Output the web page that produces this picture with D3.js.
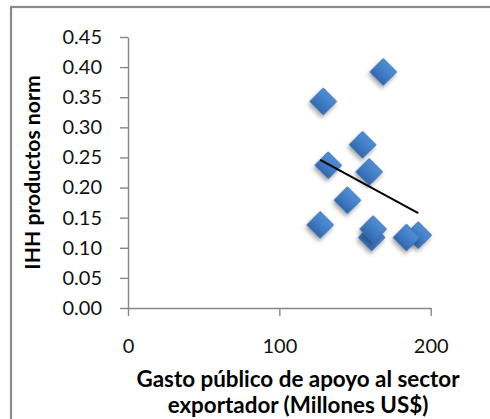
<!DOCTYPE html>
<html>
<head>
<meta charset="utf-8">
<script src="https://cdn.jsdelivr.net/npm/d3@7"></script>
<style>
  html, body { margin: 0; padding: 0; background: #fff; }
  svg { display: block; }
</style>
</head>
<body>
<svg id="chart" width="490" height="419"></svg>
<script>
// Public export-support spending (million US$) vs. normalised product HHI
const gasto = [129, 168.7, 155, 132.3, 159.4, 145, 127, 161, 162, 191.8, 184];
const ihh   = [0.343, 0.392, 0.271, 0.237, 0.226, 0.179, 0.138, 0.117, 0.131, 0.121, 0.117];

const xTicks = [0, 100, 200];
const yTicks = [0, 0.05, 0.10, 0.15, 0.20, 0.25, 0.30, 0.35, 0.40, 0.45];

const xTitle = ["Gasto público de apoyo al sector", "exportador (Millones US$)"];
const yTitle = "IHH productos norm";

const W = 490, H = 419;
const plot = { left: 128, top: 37, right: 430.7, bottom: 308 };
const axisColor = "#878787";
const font = "Lato, 'Open Sans', sans-serif";

const svg = d3.select("#chart");

// Chart frame (runs off the right and bottom edges)
svg.append("rect")
  .attr("x", 11).attr("y", 7)
  .attr("width", W + 20).attr("height", H + 20)
  .attr("fill", "#fff")
  .attr("stroke", "#8a8a8a")
  .attr("stroke-width", 2.2);

const defs = svg.append("defs");
const grad = defs.append("linearGradient")
  .attr("id", "markerFill").attr("x1", 0).attr("y1", 0).attr("x2", 0).attr("y2", 1);
grad.append("stop").attr("offset", "0%").attr("stop-color", "#4f8ed6");
grad.append("stop").attr("offset", "55%").attr("stop-color", "#3f7cc4");
grad.append("stop").attr("offset", "100%").attr("stop-color", "#3367ab");

const shadow = defs.append("filter").attr("id", "markerShadow")
  .attr("x", "-50%").attr("y", "-50%").attr("width", "200%").attr("height", "200%");
shadow.append("feDropShadow")
  .attr("dx", 1).attr("dy", 3).attr("stdDeviation", 2)
  .attr("flood-color", "#000").attr("flood-opacity", 0.35);

const x = d3.scaleLinear().domain([0, 200]).range([plot.left, plot.right]);
const y = d3.scaleLinear().domain([0, 0.45]).range([plot.bottom, plot.top]);

// Y axis
const yAxis = svg.append("g")
  .attr("transform", `translate(${plot.left},0)`)
  .call(d3.axisLeft(y).tickValues(yTicks).tickFormat(d3.format(".2f"))
    .tickSize(8).tickSizeOuter(0).tickPadding(18));

// X axis
const xAxis = svg.append("g")
  .attr("transform", `translate(0,${plot.bottom})`)
  .call(d3.axisBottom(x).tickValues(xTicks).tickFormat(d3.format("d"))
    .tickSize(8).tickSizeOuter(0).tickPadding(23));

[yAxis, xAxis].forEach(g => {
  g.select(".domain").attr("stroke", axisColor).attr("stroke-width", 1.4);
  g.selectAll(".tick line").attr("stroke", axisColor).attr("stroke-width", 1.4);
  g.selectAll(".tick text")
    .attr("fill", "#111")
    .style("font-family", font)
    .style("font-size", "20px");
});

// Markers: rotated squares
const diamond = d3.symbol().type(d3.symbolSquare).size(356);
const pts = gasto.map((g, i) => ({ gx: g, hy: ihh[i] }));
svg.append("g")
  .selectAll("path")
  .data(pts)
  .join("path")
  .attr("d", diamond)
  .attr("transform", d => `translate(${x(d.gx)},${y(d.hy)}) rotate(45)`)
  .attr("fill", "url(#markerFill)")
  .attr("stroke", "#3a6fb2")
  .attr("stroke-width", 0.8)
  .attr("filter", "url(#markerShadow)");

// Linear trend line (least squares) across the range of the data
const mx = d3.mean(gasto), my = d3.mean(ihh);
const sxy = d3.sum(gasto, (g, i) => (g - mx) * (ihh[i] - my));
const sxx = d3.sum(gasto, g => (g - mx) ** 2);
const slope = sxy / sxx, intercept = my - slope * mx;
const xExt = d3.extent(gasto);
svg.append("path")
  .datum(xExt.map(v => [v, intercept + slope * v]))
  .attr("d", d3.line().x(d => x(d[0])).y(d => y(d[1])))
  .attr("stroke", "#000")
  .attr("stroke-width", 2)
  .attr("fill", "none");

// Axis titles
svg.append("text")
  .attr("transform", `translate(40,172.5) rotate(-90)`)
  .attr("text-anchor", "middle")
  .style("font-family", font)
  .style("font-size", "21.2px")
  .style("font-weight", "bold")
  .attr("fill", "#000")
  .text(yTitle);

svg.append("text")
  .attr("text-anchor", "middle")
  .style("font-family", font)
  .style("font-size", "22.4px")
  .style("font-weight", "bold")
  .attr("fill", "#000")
  .selectAll("tspan")
  .data(xTitle)
  .join("tspan")
  .attr("x", 298)
  .attr("y", (d, i) => 387 + i * 26)
  .text(d => d);
</script>
</body>
</html>
